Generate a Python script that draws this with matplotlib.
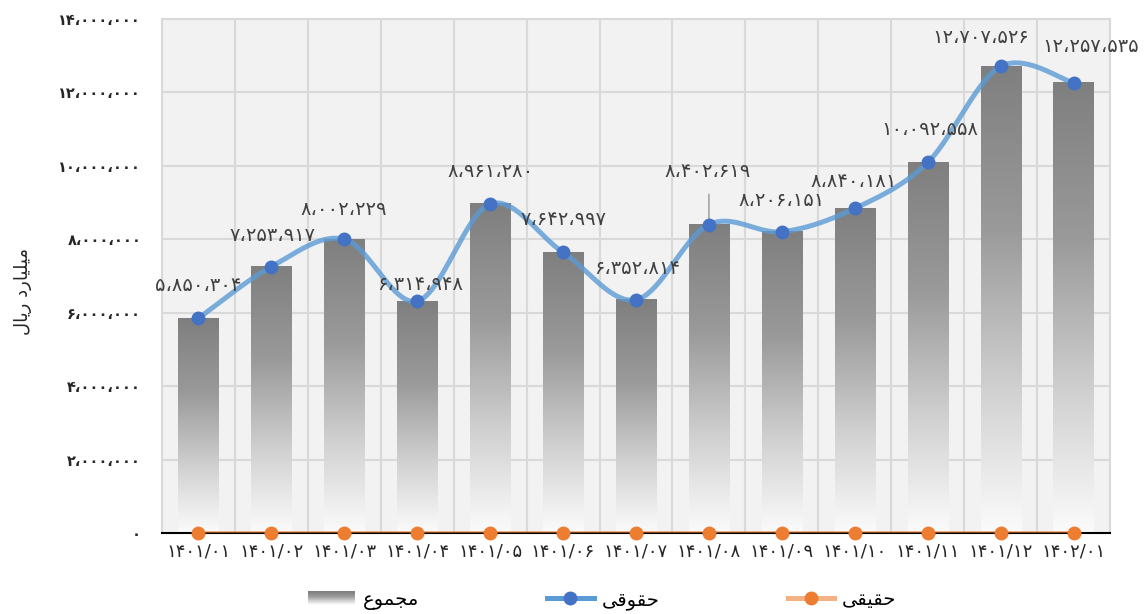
import numpy as np
import matplotlib
matplotlib.use("Agg")
import matplotlib.pyplot as plt
from matplotlib.colors import LinearSegmentedColormap
from matplotlib.patches import Rectangle
from matplotlib.lines import Line2D
from matplotlib.legend_handler import HandlerBase

plt.rcParams['font.family'] = ['DejaVu Sans']

# ---------------- data ----------------
categories = ['۱۴۰۱/۰۱', '۱۴۰۱/۰۲', '۱۴۰۱/۰۳', '۱۴۰۱/۰۴', '۱۴۰۱/۰۵', '۱۴۰۱/۰۶', '۱۴۰۱/۰۷',
              '۱۴۰۱/۰۸', '۱۴۰۱/۰۹', '۱۴۰۱/۱۰', '۱۴۰۱/۱۱', '۱۴۰۱/۱۲', '۱۴۰۲/۰۱']
hoghooghi = [5850304, 7253917, 8002229, 6314948, 8961280, 7642997, 6352814,
             8402619, 8206151, 8840181, 10092558, 12707526, 12257535]
haghighi = [0] * 13
total = [a + b for a, b in zip(hoghooghi, haghighi)]
yticks = [0, 2000000, 4000000, 6000000, 8000000, 10000000, 12000000, 14000000]

# Persian labels (pre-shaped presentation forms, visual order)
lbl_total = '\uFEC9\uFEEE\uFEE4\uFEA0\uFEE3'          # مجموع
lbl_hoghooghi = '\uFBFD\uFED7\uFEEE\uFED8\uFEA3'      # حقوقی
lbl_haghighi = '\uFBFD\uFED8\uFBFF\uFED8\uFEA3'       # حقیقی
lbl_ylabel = '\uFEDD\uFE8E\uFBFE\uFEAD \uFEA9\uFEAD\uFE8E\uFBFF\uFEE0\uFBFF\uFEE3'  # میلیارد ریال

PERSIAN = str.maketrans('0123456789,', '۰۱۲۳۴۵۶۷۸۹،')
def fa(n):
    return f'{int(n):,}'.translate(PERSIAN)

# label offsets (pixels from point)
label_dy = [33, 31, 30, 17, 32, 33, 31, 53, 31, 27, 33, 29, 36]
label_dx = [0, 1, -1, 3, 0, 0, 1, -1, 0, -1, 2, -20, 17]

# ---------------- figure ----------------
fig = plt.figure(figsize=(11.45, 6.14), dpi=100)
ax = fig.add_axes([162 / 1145, 81 / 614, (1110 - 162) / 1145, (533 - 19) / 614])
ax.set_facecolor('#f2f2f2')

n = len(categories)
x = np.arange(n)

# gradient bars
cmap = LinearSegmentedColormap.from_list(
    'g', [(0.0, '#fbfbfb'), (0.3, '#d2d2d2'), (0.65, '#9a9a9a'), (1.0, '#7f7f7f')])
grad = np.linspace(0, 1, 256).reshape(-1, 1)
bw = 0.55
for xi, h in zip(x, total):
    ax.imshow(grad, extent=[xi - bw / 2, xi + bw / 2, 0, h], origin='lower',
              aspect='auto', cmap=cmap, zorder=2)

# smooth line (Excel-like Catmull-Rom Bezier)
px = np.array(x, dtype=float)
py = np.array(hoghooghi, dtype=float)
P = np.column_stack([px, py])
Pe = np.vstack([P[0], P, P[-1]])
curve = []
t = np.linspace(0, 1, 40)[:, None]
for i in range(n - 1):
    p0, p1, p2, p3 = Pe[i], Pe[i + 1], Pe[i + 2], Pe[i + 3]
    c1 = p1 + (p2 - p0) / 6
    c2 = p2 - (p3 - p1) / 6
    seg = ((1 - t) ** 3) * p1 + 3 * ((1 - t) ** 2) * t * c1 + 3 * (1 - t) * t ** 2 * c2 + t ** 3 * p2
    curve.append(seg)
curve = np.vstack(curve)

blue_line = '#5B9BD5'
blue_mark = '#4472C4'
orange_line = '#F4B183'
orange_mark = '#ED7D31'

ax.plot(curve[:, 0], curve[:, 1], color=blue_line, lw=3.6, alpha=0.8, zorder=4,
        solid_capstyle='round')
ax.plot(x, hoghooghi, 'o', color=blue_mark, ms=9, zorder=5)

ax.plot(x, haghighi, color=orange_mark, lw=3.6, alpha=0.55, zorder=4)
ax.plot(x, haghighi, 'o', color=orange_mark, ms=9, zorder=5, clip_on=False)

# data labels
for xi, v, dx, dy in zip(x, hoghooghi, label_dx, label_dy):
    if dy > 45:
        ax.annotate('', xy=(xi, v), xytext=(0, 30), textcoords='offset pixels',
                    arrowprops=dict(arrowstyle='-', color='#a6a6a6', lw=1.2,
                                    shrinkA=0, shrinkB=4), zorder=3)
    ax.annotate(fa(v), xy=(xi, v), xytext=(dx, dy), textcoords='offset pixels',
                ha='center', va='center', fontsize=14, color='#404040', zorder=6)

# axes styling
ax.set_xlim(-0.5, n - 0.5)
ax.set_ylim(0, 14000000)
ax.set_yticks(yticks)
ax.set_yticklabels([fa(v) for v in yticks], fontsize=10.5, fontweight='bold', color='#262626')
ax.set_xticks(x)
ax.set_xticklabels(categories, fontsize=13, color='#262626')
ax.set_xticks(np.arange(-0.5, n, 1), minor=True)
ax.tick_params(axis='both', which='both', length=0)
ax.tick_params(axis='y', pad=15)
ax.tick_params(axis='x', pad=7)
ax.grid(axis='y', which='major', color='#d9d9d9', lw=1.5, zorder=0)
ax.grid(axis='x', which='minor', color='#d9d9d9', lw=1.5, zorder=0)
ax.set_axisbelow(True)
for s in ['top', 'right', 'left']:
    ax.spines[s].set_color('#d9d9d9')
    ax.spines[s].set_linewidth(1.5)
ax.spines['bottom'].set_color('#000000')
ax.spines['bottom'].set_linewidth(1.5)
ax.spines['bottom'].set_zorder(3)

ax.set_ylabel(lbl_ylabel, fontsize=13, color='#262626')
ax.yaxis.set_label_coords(-0.137, 0.47)


# legend with gradient patch
class GradHandler(HandlerBase):
    def create_artists(self, legend, orig_handle, xdescent, ydescent, width, height, fontsize, trans):
        arts = []
        m = 20
        for k in range(m):
            c = cmap(k / (m - 1))
            r = Rectangle((-xdescent, -ydescent + k * height / m), width, height / m + 0.3,
                          facecolor=c, edgecolor='none', transform=trans)
            arts.append(r)
        return arts


h_total = Rectangle((0, 0), 1, 1)
h_blue = Line2D([], [], color=blue_line, lw=3.6, marker='o', markersize=9,
                markerfacecolor=blue_mark, markeredgecolor=blue_mark)
h_orange = Line2D([], [], color=orange_line, lw=3.6, marker='o', markersize=9,
                  markerfacecolor=orange_mark, markeredgecolor=orange_mark)
fig.legend([h_total, h_blue, h_orange], [lbl_total, lbl_hoghooghi, lbl_haghighi],
           handler_map={Rectangle: GradHandler()},
           loc='lower center', bbox_to_anchor=(0.526, -0.022), ncol=3, frameon=False,
           fontsize=14, handlelength=2.4, columnspacing=6.6, handletextpad=0.4)

fig.savefig('out.png', dpi=100, facecolor='white')
